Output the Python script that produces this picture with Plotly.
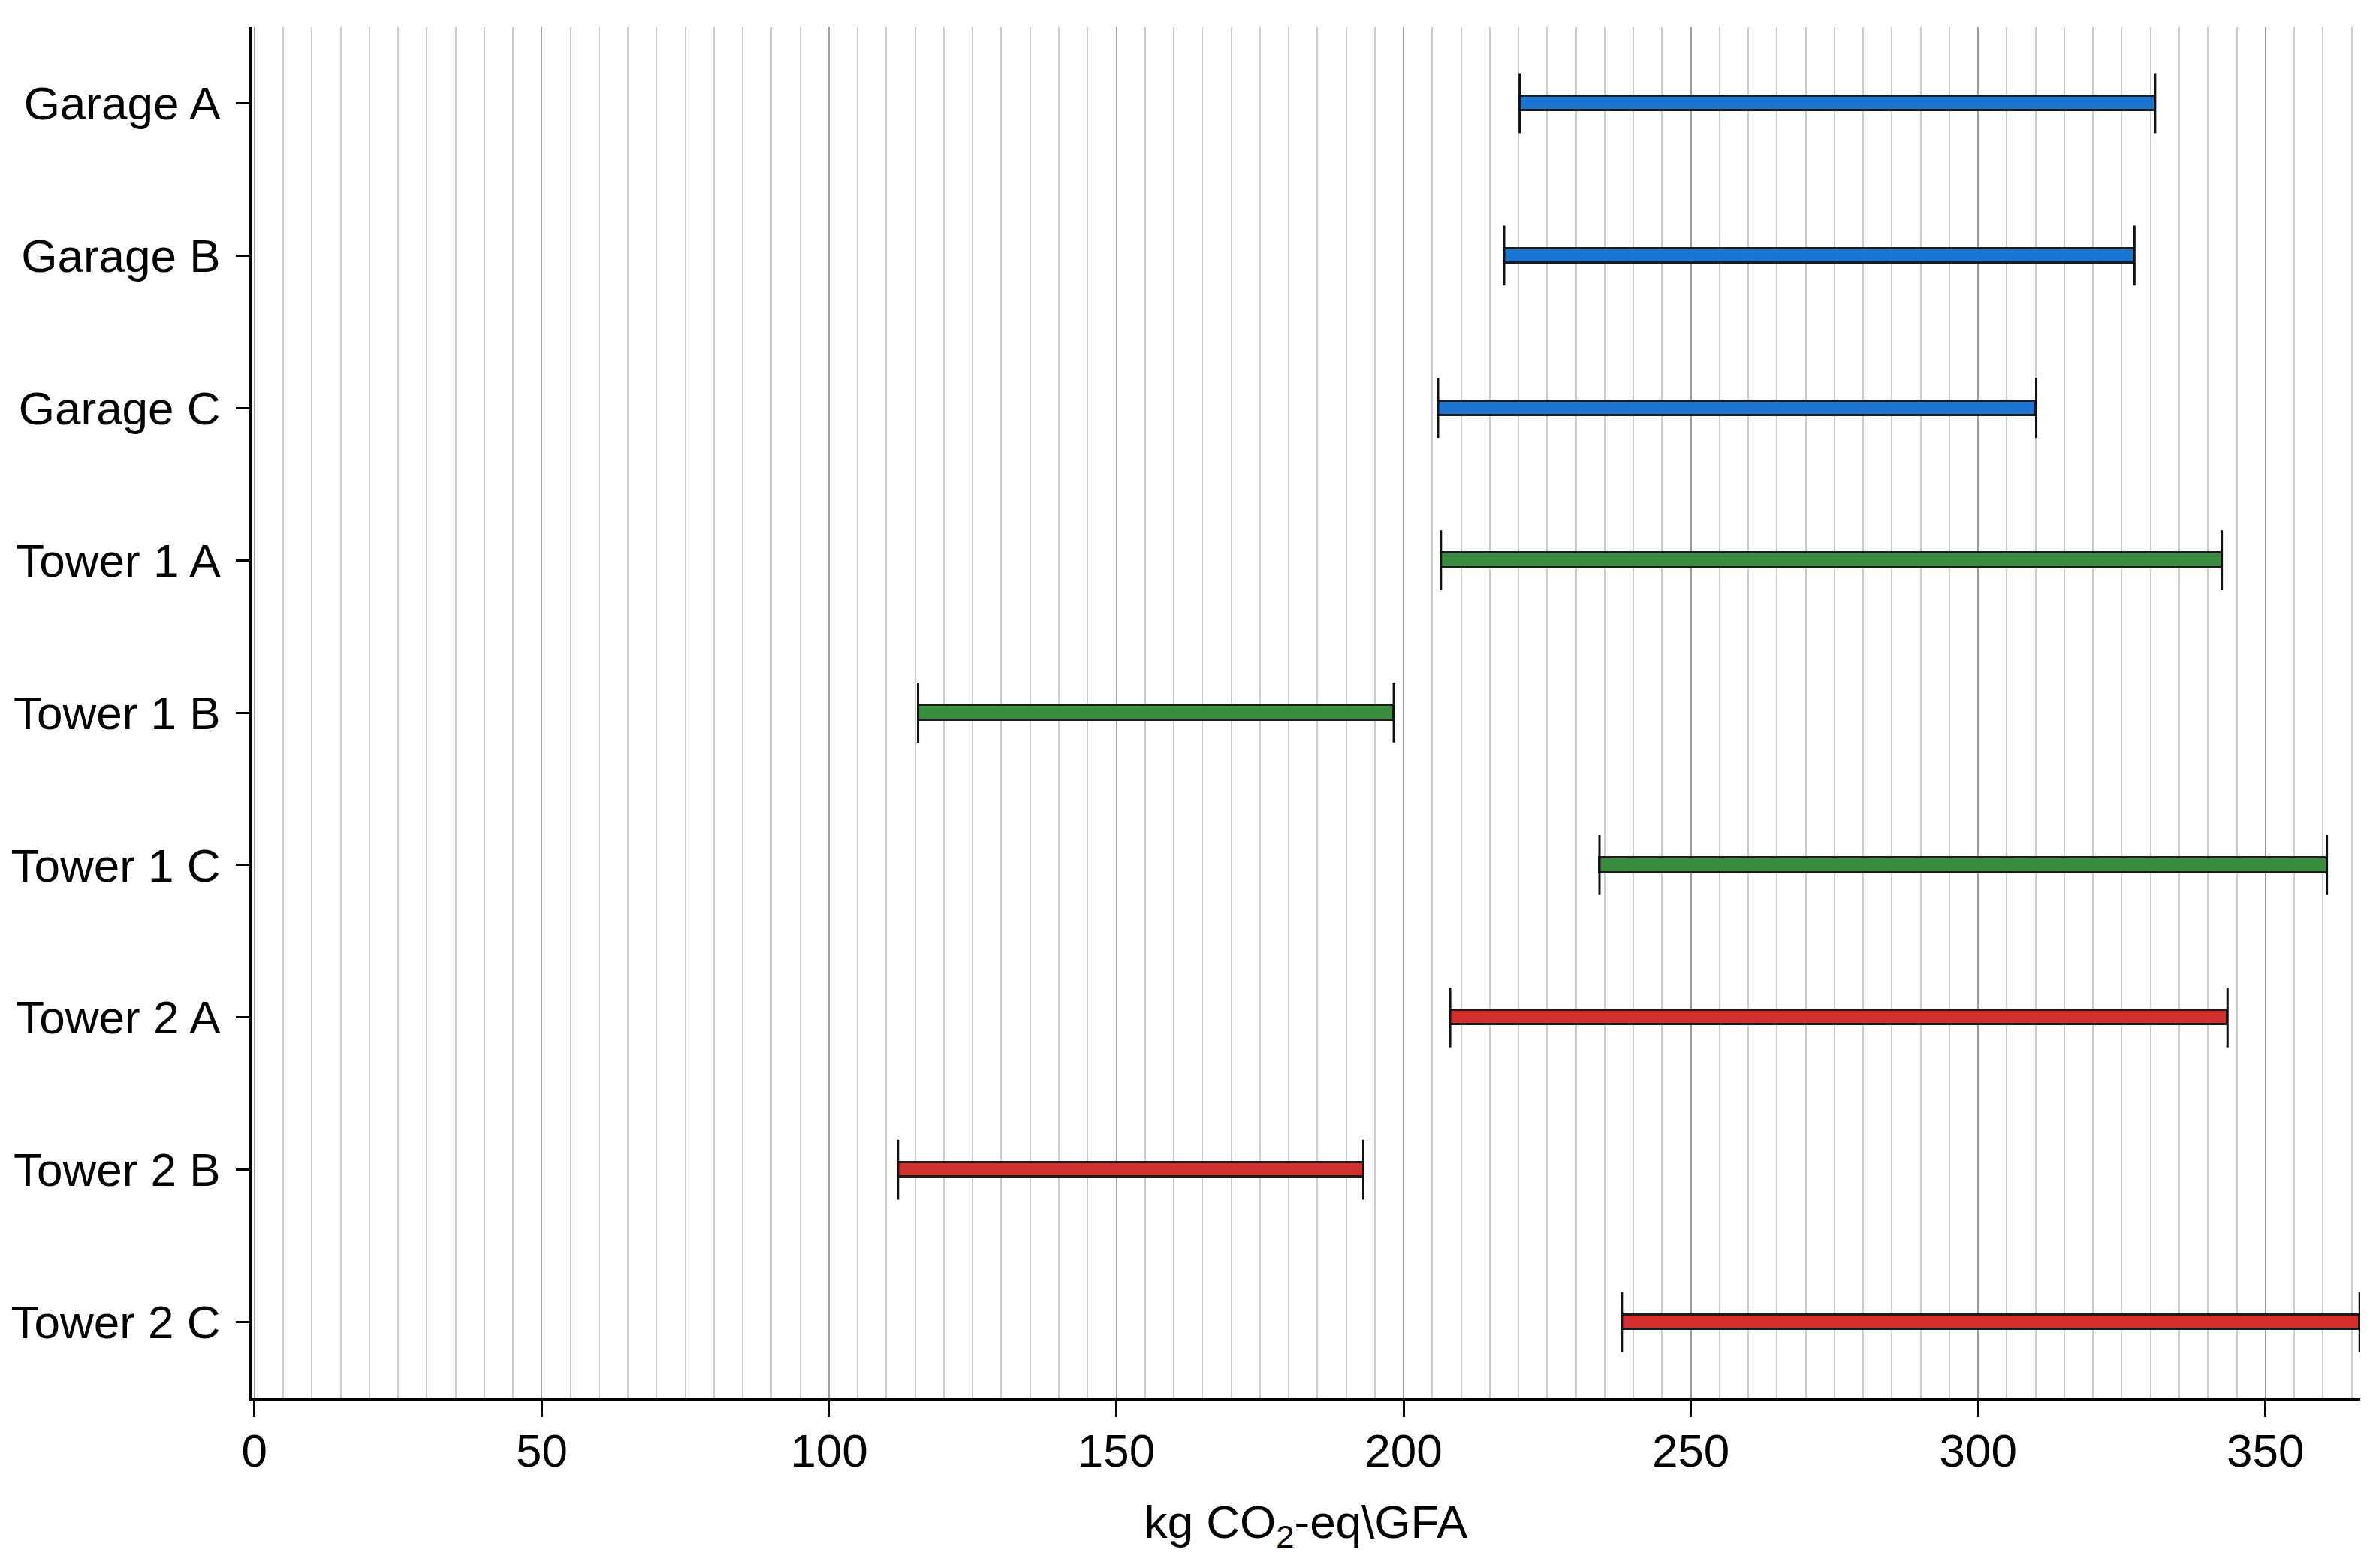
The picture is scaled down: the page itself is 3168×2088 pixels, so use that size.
import plotly.graph_objects as go

# Embodied carbon ranges per building option
categories = ["Garage A", "Garage B", "Garage C",
              "Tower 1 A", "Tower 1 B", "Tower 1 C",
              "Tower 2 A", "Tower 2 B", "Tower 2 C"]
low_vals = [220.2, 217.5, 206.0, 206.5, 115.5, 234.1, 208.1, 112.0, 238.0]
high_vals = [330.8, 327.2, 310.1, 342.4, 198.3, 360.7, 343.4, 193.0, 366.4]
group_colors = ["#1976D2"] * 3 + ["#388E3C"] * 3 + ["#D32F2F"] * 3

x_ticks = [0, 50, 100, 150, 200, 250, 300, 350]

FONT = "Liberation Sans, Arial, sans-serif"

fig = go.Figure()

# range bars
fig.add_trace(go.Bar(
    y=categories,
    x=[h - l for l, h in zip(low_vals, high_vals)],
    base=low_vals,
    orientation="h",
    width=0.095,
    marker=dict(color=group_colors, line=dict(color="#1c1c1c", width=3)),
    showlegend=False,
    hoverinfo="skip",
))

# end caps (line-ns markers are ~1.41 * size tall)
fig.add_trace(go.Scatter(
    x=low_vals + high_vals,
    y=categories + categories,
    mode="markers",
    marker=dict(symbol="line-ns", size=57, line=dict(color="#111111", width=3)),
    showlegend=False,
    hoverinfo="skip",
))

fig.update_layout(
    width=3168,
    height=2088,
    margin=dict(l=335, r=25, t=36, b=226),
    plot_bgcolor="white",
    paper_bgcolor="white",
    font=dict(family=FONT, size=62, color="black"),
    bargap=0,
)

fig.update_xaxes(
    range=[-0.5, 366.5],
    tickvals=x_ticks,
    ticks="outside",
    ticklen=22,
    tickwidth=3,
    tickcolor="black",
    showline=True,
    linecolor="black",
    linewidth=3,
    showgrid=True,
    gridcolor="#9c9c9c",
    gridwidth=2,
    minor=dict(dtick=5, tick0=0, showgrid=True, gridcolor="#cdcdcd", gridwidth=2),
    zeroline=False,
    automargin=False,
    title=dict(text="kg CO<sub>2</sub>-eq\\GFA", standoff=40, font=dict(size=62)),
    tickfont=dict(size=62),
    ticklabelstandoff=-8,
)

fig.update_yaxes(
    categoryorder="array",
    categoryarray=categories,
    range=[8.5, -0.5],
    ticks="outside",
    ticklen=18,
    tickwidth=3,
    tickcolor="black",
    showline=True,
    linecolor="black",
    linewidth=3,
    showgrid=False,
    zeroline=False,
    automargin=False,
    tickfont=dict(size=62),
    ticklabelstandoff=8,
)

fig.write_html(
    "out.html",
    config={"displayModeBar": False},
    post_script="document.body.style.margin='0';",
)
